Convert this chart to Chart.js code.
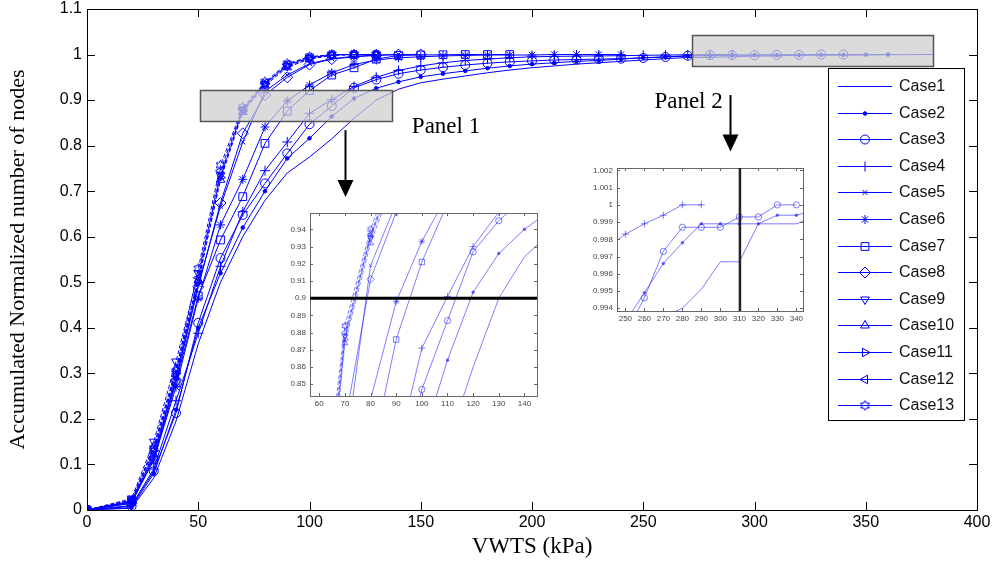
<!DOCTYPE html>
<html>
<head>
<meta charset="utf-8">
<script src="https://cdn.jsdelivr.net/npm/chart.js@4.4.0/dist/chart.umd.min.js"></script>
<style>
  body { margin: 0; background: #fff; }
  #wrap { position: relative; width: 998px; height: 561px; overflow: hidden; }
  canvas { position: absolute; left: 0; top: 0; }
</style>
</head>
<body>
<div id="wrap">
  <canvas id="main" width="998" height="561"></canvas>
  <canvas id="inset1"></canvas>
  <canvas id="inset2"></canvas>
</div>
<script>
'use strict';
// x positions (kPa) shared by every case; each case stops where its array ends
const xGrid = [0, 20, 30, 40, 50, 60, 70, 80, 90, 100, 110, 120, 130, 140, 150, 160, 170, 180, 190, 200,
  210, 220, 230, 240, 250, 260, 270, 280, 290, 300, 310, 320, 330, 340, 350, 360, 370, 380];

const case1 = [0, 0.004, 0.07, 0.195, 0.365, 0.50, 0.60, 0.68, 0.74, 0.775, 0.815, 0.86, 0.90, 0.924, 0.938,
  0.946, 0.953, 0.96, 0.966, 0.971, 0.975, 0.979, 0.982, 0.985, 0.988, 0.991, 0.9935, 0.994, 0.9951, 0.9967,
  0.9967, 0.9989, 0.9989, 0.9989, 0.9993, 0.9996, 0.9998, 1.0];
const case2 = [0, 0.005, 0.08, 0.22, 0.40, 0.52, 0.62, 0.70, 0.772, 0.816, 0.864, 0.9035, 0.926, 0.940, 0.951,
  0.958, 0.964, 0.97, 0.975, 0.979, 0.982, 0.985, 0.987, 0.99, 0.9932, 0.9949, 0.9966, 0.9978, 0.9989, 0.9989,
  0.9989, 0.9989, 0.9994, 0.9994, 0.9997, 1.0];
const case3 = [0, 0.008, 0.085, 0.213, 0.411, 0.553, 0.648, 0.717, 0.783, 0.847, 0.887, 0.927, 0.945, 0.958,
  0.966, 0.972, 0.977, 0.981, 0.984, 0.986, 0.988, 0.989, 0.99, 0.991, 0.9925, 0.9946, 0.9973, 0.9987, 0.9987,
  0.9987, 0.9993, 0.9993, 1.0, 1.0];
const case4 = [0, 0.01, 0.09, 0.24, 0.388, 0.535, 0.655, 0.745, 0.808, 0.871, 0.901, 0.93, 0.95, 0.965, 0.975,
  0.982, 0.987, 0.99, 0.993, 0.995, 0.996, 0.9965, 0.997, 0.9975, 0.9983, 0.9989, 0.9994, 1.0, 1.0];
const case5 = [0, 0.018, 0.12, 0.29, 0.495, 0.667, 0.808, 0.919, 0.955, 0.98, 0.991, 0.996, 0.999, 1.0];
const case6 = [0, 0.015, 0.11, 0.27, 0.465, 0.626, 0.726, 0.841, 0.898, 0.933, 0.96, 0.978, 0.988, 0.993,
  0.995, 0.997, 0.998, 0.999, 0.999, 0.999, 1.0, 1.0, 1.0, 1.0];
const case7 = [0, 0.02, 0.11, 0.28, 0.47, 0.593, 0.688, 0.805, 0.876, 0.921, 0.955, 0.971, 0.99, 0.998, 0.999,
  0.9995, 1.0, 1.0, 1.0];
const case8 = [0, 0.015, 0.115, 0.285, 0.49, 0.674, 0.827, 0.911, 0.95, 0.978, 0.99, 0.995, 0.998, 1.0, 1.0];
const case9 = [0, 0.025, 0.15, 0.326, 0.52, 0.735, 0.878, 0.935, 0.975, 0.992, 0.999, 1.0, 1.0];
const case10 = [0, 0.02, 0.14, 0.31, 0.505, 0.725, 0.874, 0.932, 0.972, 0.99, 0.998, 1.0, 1.0];
const case11 = [0, 0.022, 0.13, 0.30, 0.50, 0.73, 0.876, 0.936, 0.976, 0.993, 0.999, 1.0, 1.0];
const case12 = [0, 0.018, 0.125, 0.295, 0.51, 0.745, 0.88, 0.937, 0.978, 0.994, 1.0, 1.0, 1.0];
const case13 = [0, 0.02, 0.135, 0.305, 0.53, 0.757, 0.884, 0.94, 0.98, 0.995, 1.0, 1.0, 1.0];

const caseNames = ['Case1', 'Case2', 'Case3', 'Case4', 'Case5', 'Case6', 'Case7', 'Case8', 'Case9',
  'Case10', 'Case11', 'Case12', 'Case13'];
const caseValues = [case1, case2, case3, case4, case5, case6, case7, case8, case9, case10, case11, case12, case13];

const xTicks = [0, 50, 100, 150, 200, 250, 300, 350, 400];
const yTicks = [0, 0.1, 0.2, 0.3, 0.4, 0.5, 0.6, 0.7, 0.8, 0.9, 1, 1.1];
const inset1XTicks = [60, 70, 80, 90, 100, 110, 120, 130, 140];
const inset1YTicks = [0.85, 0.86, 0.87, 0.88, 0.89, 0.9, 0.91, 0.92, 0.93, 0.94];
const inset2XTicks = [250, 260, 270, 280, 290, 300, 310, 320, 330, 340];
const inset2YTicks = [0.994, 0.995, 0.996, 0.997, 0.998, 0.999, 1, 1.001, 1.002];

// annotations, in data units
const zoomBoxes = [
  {x0: 51, x1: 137.2, y0: 0.8545, y1: 0.923},
  {x0: 272, x1: 380.2, y0: 0.9745, y1: 1.0426},
];
const arrows = [
  {x: 116, from: 0.834, to: 0.687},
  {x: 289, from: 0.911, to: 0.787},
];
const panelLabels = [
  {text: 'Panel 1', x: 146, y: 0.84},
  {text: 'Panel 2', x: 255, y: 0.897},
];

const BLUE = '#0000ff';
const SANS = '"Liberation Sans", Arial, sans-serif';
const SERIF = '"Liberation Serif", "Times New Roman", serif';

// matlab hexagram marker
function hexagram(r, color) {
  const c = document.createElement('canvas');
  c.width = c.height = Math.ceil(2 * r + 3);
  const g = c.getContext('2d');
  const m = c.width / 2;
  g.strokeStyle = color;
  g.lineWidth = 1;
  g.beginPath();
  for (let i = 0; i < 12; i++) {
    const a = -Math.PI / 2 + i * Math.PI / 6;
    const rr = i % 2 === 0 ? r : r * 0.55;
    const px = m + rr * Math.cos(a);
    const py = m + rr * Math.sin(a);
    i === 0 ? g.moveTo(px, py) : g.lineTo(px, py);
  }
  g.closePath();
  g.stroke();
  return c;
}

const markerStyles = [
  {style: 'circle', r: 0},
  {style: 'circle', r: 1.8, filled: true},
  {style: 'circle', r: 4.5},
  {style: 'cross', r: 5},
  {style: 'crossRot', r: 3.5},
  {style: 'star', r: 4.5},
  {style: 'rect', r: 5.5},
  {style: 'rectRot', r: 5.5},
  {style: 'triangle', r: 5, rot: 180},
  {style: 'triangle', r: 5, rot: 0},
  {style: 'triangle', r: 5, rot: 90},
  {style: 'triangle', r: 5, rot: 270},
  {style: 'hex', r: 5},
];
const hexMain = hexagram(5, BLUE);
const hexInset = hexagram(3.5, 'rgba(40,40,255,0.7)');

const buildDatasets = (inset) => caseValues.map((vals, i) => {
  const m = markerStyles[i];
  const col = inset ? 'rgba(40,40,255,0.6)' : BLUE;
  const k = inset ? 0.7 : 1;
  return {
    label: caseNames[i],
    data: vals.map((v, j) => ({x: xGrid[j], y: v})),
    borderColor: col,
    borderWidth: 1,
    borderDash: i >= 8 ? [4, 2] : [],
    pointStyle: m.style === 'hex' ? (inset ? hexInset : hexMain) : m.style,
    pointRadius: m.r * k,
    pointRotation: m.rot || 0,
    pointBorderColor: col,
    pointBorderWidth: 1,
    pointBackgroundColor: m.filled ? col : 'rgba(0,0,0,0)',
    tension: 0,
    fill: false,
  };
});

// box with inward tick marks, matlab style
const framePlugin = {
  id: 'frame',
  afterDatasetsDraw(chart, args, o) {
    const {ctx, chartArea: a, scales: {x, y}} = chart;
    ctx.save();
    ctx.strokeStyle = o.color;
    ctx.lineWidth = 1;
    ctx.beginPath();
    x.ticks.forEach((t) => {
      const px = Math.round(x.getPixelForValue(t.value)) + 0.5;
      ctx.moveTo(px, a.bottom); ctx.lineTo(px, a.bottom - o.len);
      ctx.moveTo(px, a.top); ctx.lineTo(px, a.top + o.len);
    });
    y.ticks.forEach((t) => {
      const py = Math.round(y.getPixelForValue(t.value)) + 0.5;
      ctx.moveTo(a.left, py); ctx.lineTo(a.left + o.len, py);
      ctx.moveTo(a.right, py); ctx.lineTo(a.right - o.len, py);
    });
    ctx.stroke();
    ctx.lineWidth = o.width || 1;
    ctx.strokeRect(Math.round(a.left) + 0.5, Math.round(a.top) + 0.5,
      Math.round(a.width), Math.round(a.height));
    ctx.restore();
  },
};

const whiteBg = {
  id: 'whiteBg',
  beforeDraw(chart) {
    const {ctx, width, height} = chart;
    ctx.save();
    ctx.fillStyle = '#fff';
    ctx.fillRect(0, 0, width, height);
    ctx.restore();
  },
};

const guidePlugin = {
  id: 'guide',
  afterDatasetsDraw(chart, args, o) {
    const {ctx, chartArea: a, scales: {x, y}} = chart;
    ctx.save();
    ctx.strokeStyle = o.color;
    ctx.lineWidth = o.width;
    ctx.beginPath();
    if (o.axis === 'y') {
      const py = y.getPixelForValue(o.value);
      ctx.moveTo(a.left, py); ctx.lineTo(a.right, py);
    } else {
      const px = x.getPixelForValue(o.value);
      ctx.moveTo(px, a.top); ctx.lineTo(px, a.bottom);
    }
    ctx.stroke();
    ctx.restore();
  },
};

// gray zoom boxes, arrows, labels and legend on the main plot
const overlayPlugin = {
  id: 'overlay',
  afterDraw(chart) {
    const {ctx, chartArea: a, scales: {x, y}} = chart;
    ctx.save();
    zoomBoxes.forEach((b) => {
      const l = Math.round(x.getPixelForValue(b.x0)) + 0.5;
      const r = Math.round(x.getPixelForValue(b.x1)) + 0.5;
      const t = Math.round(y.getPixelForValue(b.y1)) + 0.5;
      const btm = Math.round(y.getPixelForValue(b.y0)) + 0.5;
      ctx.fillStyle = 'rgba(205,205,205,0.72)';
      ctx.fillRect(l, t, r - l, btm - t);
      ctx.strokeStyle = '#555';
      ctx.lineWidth = 1.5;
      ctx.strokeRect(l, t, r - l, btm - t);
    });
    ctx.fillStyle = '#000';
    ctx.strokeStyle = '#000';
    arrows.forEach((ar) => {
      const px = Math.round(x.getPixelForValue(ar.x)) + 0.5;
      const p0 = y.getPixelForValue(ar.from);
      const p1 = y.getPixelForValue(ar.to);
      ctx.lineWidth = 2;
      ctx.beginPath();
      ctx.moveTo(px, p0); ctx.lineTo(px, p1 - 16);
      ctx.stroke();
      ctx.beginPath();
      ctx.moveTo(px - 8, p1 - 17); ctx.lineTo(px + 8, p1 - 17); ctx.lineTo(px, p1);
      ctx.closePath();
      ctx.fill();
    });
    ctx.font = '23px ' + SERIF;
    ctx.textBaseline = 'middle';
    ctx.textAlign = 'left';
    panelLabels.forEach((p) => {
      ctx.fillText(p.text, x.getPixelForValue(p.x), y.getPixelForValue(p.y));
    });

    // legend
    const lx = a.right - 149, ly = a.top + 59, lw = 136, lh = 352;
    ctx.fillStyle = '#fff';
    ctx.fillRect(lx, ly, lw, lh);
    ctx.strokeStyle = '#000';
    ctx.lineWidth = 1;
    ctx.strokeRect(lx + 0.5, ly + 0.5, lw, lh);
    ctx.font = '16px ' + SANS;
    ctx.textBaseline = 'middle';
    chart.data.datasets.forEach((ds, i) => {
      const ry = Math.round(ly + 18 + i * 26.6) + 0.5;
      ctx.strokeStyle = BLUE;
      ctx.lineWidth = 1.2;
      ctx.setLineDash([]);
      ctx.beginPath();
      ctx.moveTo(lx + 10, ry); ctx.lineTo(lx + 64, ry);
      ctx.stroke();
      ctx.fillStyle = ds.pointBackgroundColor;
      ctx.lineWidth = 1;
      if (ds.pointRadius > 0) {
        Chart.helpers.drawPoint(ctx, {
          pointStyle: ds.pointStyle, rotation: ds.pointRotation,
          radius: ds.pointRadius, borderWidth: 1,
        }, lx + 37, ry);
      }
      ctx.fillStyle = '#111';
      ctx.fillText(ds.label, lx + 71, ry);
    });
    ctx.restore();
  },
};

new Chart(document.getElementById('main'), {
  type: 'line',
  data: {datasets: buildDatasets(false)},
  options: {
    responsive: false,
    animation: false,
    layout: {padding: {top: 9, right: 21, left: 0, bottom: 0}},
    plugins: {
      legend: {display: false},
      tooltip: {enabled: false},
      frame: {len: 8, color: '#000'},
    },
    scales: {
      x: {
        type: 'linear', min: 0, max: 400,
        afterBuildTicks: (s) => { s.ticks = xTicks.map((v) => ({value: v})); },
        afterFit: (s) => { s.height = 51; },
        grid: {display: false, drawTicks: false},
        border: {display: false},
        ticks: {font: {family: SANS, size: 16, lineHeight: 1}, color: '#000', padding: 5, maxRotation: 0,
          callback: (v) => String(v)},
        title: {display: true, text: 'VWTS (kPa)', color: '#000',
          font: {family: SERIF, size: 23}, padding: {top: 0, bottom: 0}},
      },
      y: {
        type: 'linear', min: 0, max: 1.1,
        afterBuildTicks: (s) => { s.ticks = yTicks.map((v) => ({value: v})); },
        afterFit: (s) => { s.width = 87; },
        grid: {display: false, drawTicks: false},
        border: {display: false},
        ticks: {font: {family: SANS, size: 16, lineHeight: 0.5}, color: '#000', padding: 5,
          callback: (v) => String(Math.round(v * 10) / 10)},
        title: {display: true, text: 'Accumulated Normalized number of nodes', color: '#000',
          font: {family: SERIF, size: 22}, padding: {top: 5, bottom: 0}},
      },
    },
  },
  plugins: [framePlugin, overlayPlugin],
});

function makeInset(id, box, xr, yr, xt, yt, digits, guide) {
  const cv = document.getElementById(id);
  const L = 32, T = 6, R = 6, B = 16;
  cv.width = L + box.w + R;
  cv.height = T + box.h + B;
  cv.style.left = (box.x - L) + 'px';
  cv.style.top = (box.y - T) + 'px';
  const ch = new Chart(cv, {
    type: 'line',
    data: {datasets: buildDatasets(true)},
    options: {
      responsive: false,
      animation: false,
      layout: {padding: {top: T, right: R, left: 0, bottom: 0}},
      plugins: {
        legend: {display: false},
        tooltip: {enabled: false},
        frame: {len: 3, color: '#666'},
        guide: guide,
      },
      scales: {
        x: {
          type: 'linear', min: xr[0], max: xr[1],
          afterBuildTicks: (s) => { s.ticks = xt.map((v) => ({value: v})); },
          afterFit: (s) => { s.height = B; },
          grid: {display: false, drawTicks: false},
          border: {display: false},
          ticks: {font: {family: SANS, size: 8, lineHeight: 1}, color: '#444', padding: 4, maxRotation: 0,
            callback: (v) => String(v)},
        },
        y: {
          type: 'linear', min: yr[0], max: yr[1],
          afterBuildTicks: (s) => { s.ticks = yt.map((v) => ({value: v})); },
          afterFit: (s) => { s.width = L; },
          grid: {display: false, drawTicks: false},
          border: {display: false},
          ticks: {font: {family: SANS, size: 8, lineHeight: 0.5}, color: '#444', padding: 4,
            callback: (v) => String(+v.toFixed(digits))},
        },
      },
    },
    plugins: [whiteBg, framePlugin, guidePlugin],
  });
  const a = ch.chartArea;
  cv.style.left = (box.x - a.left) + 'px';
  cv.style.top = (box.y - a.top) + 'px';
  return ch;
}

makeInset('inset1', {x: 310, y: 213, w: 227, h: 183}, [56.4, 144.9], [0.8432, 0.9495],
  inset1XTicks, inset1YTicks, 2, {axis: 'y', value: 0.9, color: '#000', width: 3});
makeInset('inset2', {x: 617, y: 168, w: 186, h: 143}, [245.6, 343.5], [0.99384, 1.00214],
  inset2XTicks, inset2YTicks, 3, {axis: 'x', value: 310.3, color: '#222', width: 2.5});
</script>
</body>
</html>
